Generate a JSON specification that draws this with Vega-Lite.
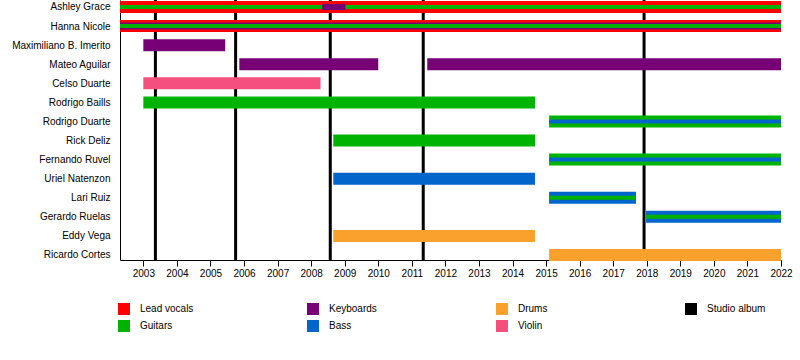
{
  "$schema": "https://vega.github.io/schema/vega-lite/v6.json",
  "width": 661,
  "height": 260,
  "autosize": {"type": "none"},
  "padding": {"left": 120, "top": 0, "right": 19, "bottom": 100},
  "background": "white",
  "config": {
    "view": {"stroke": null},
    "font": "Liberation Sans",
    "axis": {"labelFont": "Liberation Sans", "labelColor": "black", "domainColor": "black", "tickColor": "black", "grid": false, "title": null},
    "legend": {"labelFont": "Liberation Sans"}
  },
  "datasets": {
    "albums": [
      {"year": 2003.36, "role": "Studio album"},
      {"year": 2005.75, "role": "Studio album"},
      {"year": 2008.57, "role": "Studio album"},
      {"year": 2011.34, "role": "Studio album"},
      {"year": 2017.92, "role": "Studio album"}
    ],
    "bars": [
      {"name": "Ashley Grace", "role": "Lead vocals", "start": 2002.305, "end": 2022, "stripe": "outer"},
      {"name": "Ashley Grace", "role": "Guitars", "start": 2002.305, "end": 2022, "stripe": "inner"},
      {"name": "Ashley Grace", "role": "Keyboards", "start": 2008.33, "end": 2009.02, "stripe": "accent"},
      {"name": "Hanna Nicole", "role": "Lead vocals", "start": 2002.305, "end": 2022, "stripe": "outer"},
      {"name": "Hanna Nicole", "role": "Keyboards", "start": 2002.305, "end": 2022, "stripe": "middle"},
      {"name": "Hanna Nicole", "role": "Guitars", "start": 2002.305, "end": 2022, "stripe": "inner"},
      {"name": "Maximiliano B. Imerito", "role": "Keyboards", "start": 2003.0, "end": 2005.44, "stripe": "outer"},
      {"name": "Mateo Aguilar", "role": "Keyboards", "start": 2005.86, "end": 2010.0, "stripe": "outer"},
      {"name": "Mateo Aguilar", "role": "Keyboards", "start": 2011.46, "end": 2022, "stripe": "outer"},
      {"name": "Celso Duarte", "role": "Violin", "start": 2003.0, "end": 2008.28, "stripe": "outer"},
      {"name": "Rodrigo Baills", "role": "Guitars", "start": 2003.0, "end": 2014.67, "stripe": "outer"},
      {"name": "Rodrigo Duarte", "role": "Guitars", "start": 2015.09, "end": 2022, "stripe": "outer"},
      {"name": "Rodrigo Duarte", "role": "Bass", "start": 2015.09, "end": 2022, "stripe": "inner"},
      {"name": "Rick Deliz", "role": "Guitars", "start": 2008.66, "end": 2014.67, "stripe": "outer"},
      {"name": "Fernando Ruvel", "role": "Guitars", "start": 2015.09, "end": 2022, "stripe": "outer"},
      {"name": "Fernando Ruvel", "role": "Bass", "start": 2015.09, "end": 2022, "stripe": "inner"},
      {"name": "Uriel Natenzon", "role": "Bass", "start": 2008.66, "end": 2014.67, "stripe": "outer"},
      {"name": "Lari Ruiz", "role": "Bass", "start": 2015.09, "end": 2017.68, "stripe": "outer"},
      {"name": "Lari Ruiz", "role": "Guitars", "start": 2015.09, "end": 2017.68, "stripe": "inner"},
      {"name": "Gerardo Ruelas", "role": "Bass", "start": 2017.98, "end": 2022, "stripe": "outer"},
      {"name": "Gerardo Ruelas", "role": "Guitars", "start": 2017.98, "end": 2022, "stripe": "inner"},
      {"name": "Eddy Vega", "role": "Drums", "start": 2008.66, "end": 2014.67, "stripe": "outer"},
      {"name": "Ricardo Cortes", "role": "Drums", "start": 2015.09, "end": 2022, "stripe": "outer"}
    ]
  },
  "encoding": {
    "x": {
      "field": "start", "type": "quantitative",
      "scale": {"domain": [2002.305, 2022], "nice": false, "zero": false},
      "axis": {"title": null, "values": [2003, 2004, 2005, 2006, 2007, 2008, 2009, 2010, 2011, 2012, 2013, 2014, 2015, 2016, 2017, 2018, 2019, 2020, 2021, 2022], "format": "d", "labelFontSize": 10, "tickSize": 6, "labelPadding": 2, "labelFlush": false, "labelOverlap": false}
    },
    "color": {
      "field": "role", "type": "nominal",
      "scale": {
        "domain": ["Lead vocals", "Keyboards", "Drums", "Studio album", "Guitars", "Bass", "Violin"],
        "range": ["#FF0000", "#770077", "#F9A12C", "#000000", "#00B300", "#0066CC", "#F54F7E"]
      },
      "legend": {
        "title": null, "orient": "none", "legendX": -2, "legendY": 303, "columns": 4, "direction": "horizontal",
        "symbolType": "square", "symbolSize": 144, "symbolStrokeWidth": 0, "labelFontSize": 10, "labelColor": "black",
        "labelOffset": 10, "columnPadding": 108, "rowPadding": 5, "gridAlign": "all", "padding": 0
      }
    }
  },
  "layer": [
    {
      "data": {"name": "albums"},
      "mark": {"type": "rule", "strokeWidth": 3},
      "encoding": {
        "x": {
          "field": "year", "type": "quantitative",
          "scale": {"domain": [2002.305, 2022], "nice": false, "zero": false},
          "axis": {"title": null, "values": [2003, 2004, 2005, 2006, 2007, 2008, 2009, 2010, 2011, 2012, 2013, 2014, 2015, 2016, 2017, 2018, 2019, 2020, 2021, 2022], "format": "d", "labelFontSize": 10, "tickSize": 6, "labelPadding": 2, "labelFlush": false, "labelOverlap": false}
        }
      }
    },
    {
      "data": {"name": "bars"},
      "layer": [
        {"transform": [{"filter": "datum.stripe === 'outer'"}], "mark": {"type": "bar", "size": 12}},
        {"transform": [{"filter": "datum.stripe === 'middle'"}], "mark": {"type": "bar", "size": 7}},
        {"transform": [{"filter": "datum.stripe === 'inner'"}], "mark": {"type": "bar", "size": 4}},
        {"transform": [{"filter": "datum.stripe === 'accent'"}], "mark": {"type": "bar", "size": 6}}
      ],
      "encoding": {
        "y": {
          "field": "name", "type": "nominal", "sort": null,
          "scale": {"type": "point", "domain": ["Ashley Grace", "Hanna Nicole", "Maximiliano B. Imerito", "Mateo Aguilar", "Celso Duarte", "Rodrigo Baills", "Rodrigo Duarte", "Rick Deliz", "Fernando Ruvel", "Uriel Natenzon", "Lari Ruiz", "Gerardo Ruelas", "Eddy Vega", "Ricardo Cortes"], "padding": 0.3145, "align": 0.583},
          "axis": {"title": null, "domain": true, "ticks": false, "tickSize": 0, "labelPadding": 10, "labelFontSize": 10}
        },
        "x2": {"field": "end"}
      }
    }
  ]
}
